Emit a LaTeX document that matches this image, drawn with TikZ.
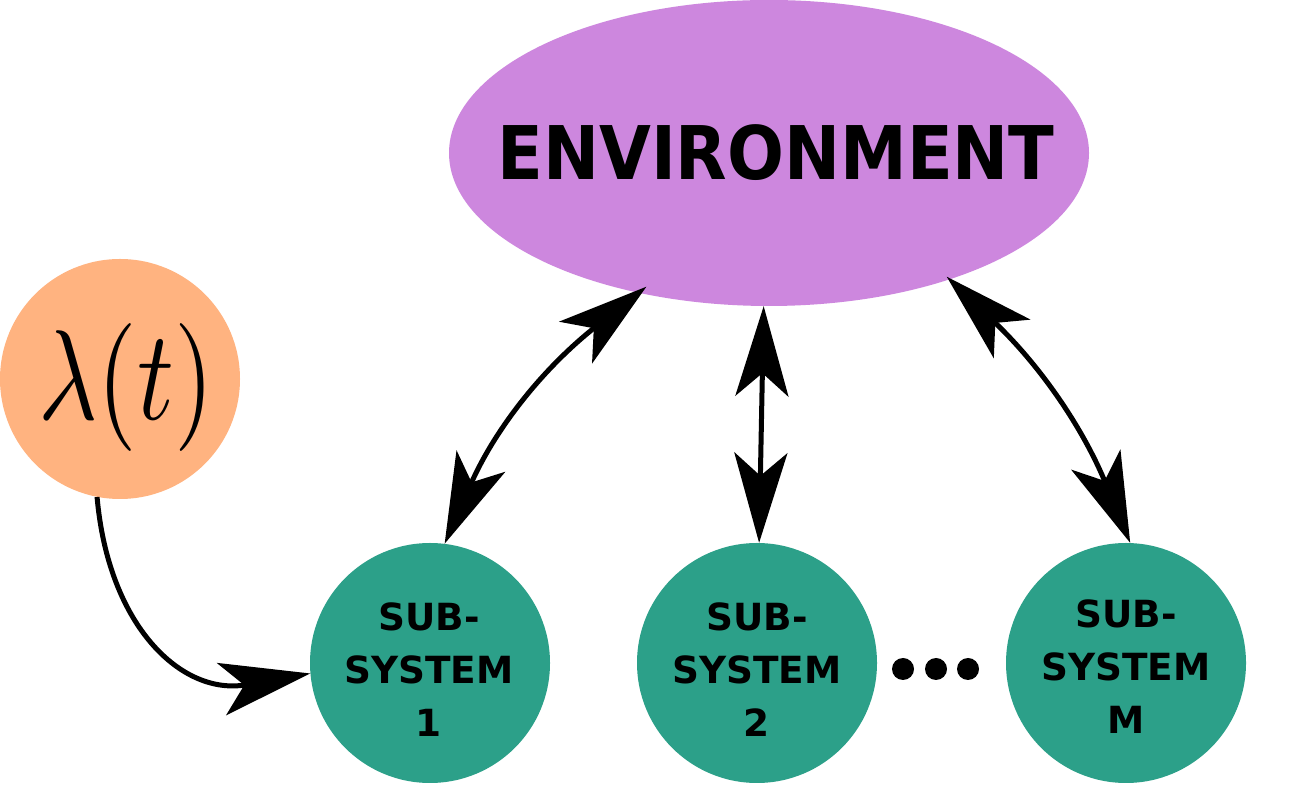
\documentclass[tikz,border=0pt]{standalone}
\usepackage{graphicx}
\usepackage{fontspec}
\newfontfamily\djsans{DejaVu Sans}
\usetikzlibrary{arrows.meta,shapes.geometric}
\definecolor{envpurple}{HTML}{CD87DE}
\definecolor{lamorange}{HTML}{FFB380}
\definecolor{subgreen}{HTML}{2CA089}
\tikzset{
  envshape/.style={ellipse,fill=envpurple,draw=none,minimum width=640pt,minimum height=306pt,inner sep=0pt},
  lamshape/.style={circle,fill=lamorange,draw=none,minimum size=240pt,inner sep=0pt},
  subshape/.style={circle,fill=subgreen,draw=none,minimum size=240pt,inner sep=0pt},
  subtext/.style={align=center,inner sep=0pt,font=\djsans\bfseries\fontsize{37.4}{53}\selectfont},
  dotmark/.style={circle,fill=black,minimum size=22pt,inner sep=0pt},
  bigtip/.tip={Stealth[length=90pt,width=53pt,inset=23pt]},
  conn/.style={line width=5pt,black},
}
\begin{document}
\begin{tikzpicture}[x=1pt,y=1pt]
\useasboundingbox[fill=white] (0,0) rectangle (1308,789);
% nodes
\node[envshape] (env) at (769,636) {};
\node[inner sep=0pt,font=\djsans\bfseries\fontsize{74}{74}\selectfont] (envtext) at (776,636.5) {\scalebox{0.905}[1]{ENVIRONMENT}};
\node[lamshape] (lam) at (120,410) {};
\node[inner sep=0pt] (lamtext) at (126,401.5) {\scalebox{10.2}[12.8]{$\lambda(t)$}};
\node[subshape] (s1) at (430,126) {};
\node[subshape] (s2) at (757,126) {};
\node[subshape] (s3) at (1126,126) {};
\node[subtext] (t1) at (429,119) {SUB-\\SYSTEM\\1};
\node[subtext] (t2) at (757,119) {SUB-\\SYSTEM\\2};
\node[subtext] (t3) at (1126,122.5) {SUB-\\SYSTEM\\M};
\node[dotmark] (d1) at (903,120) {};
\node[dotmark] (d2) at (936,120) {};
\node[dotmark] (d3) at (968,120) {};
% connectors
\draw[conn,{bigtip}-{bigtip},shorten >=-10pt] (s1.83) to[bend left=14] (env.227);
\draw[conn,{bigtip}-{bigtip}] (s2.89) -- (env.268);
\draw[conn,{bigtip}-{bigtip},shorten >=-4pt] (s3.88) to[bend right=12] (env.325);
\draw[conn,-{bigtip}] (lam.259) to[out=-85,in=190,looseness=1.2] (s1.185);
\end{tikzpicture}
\end{document}
